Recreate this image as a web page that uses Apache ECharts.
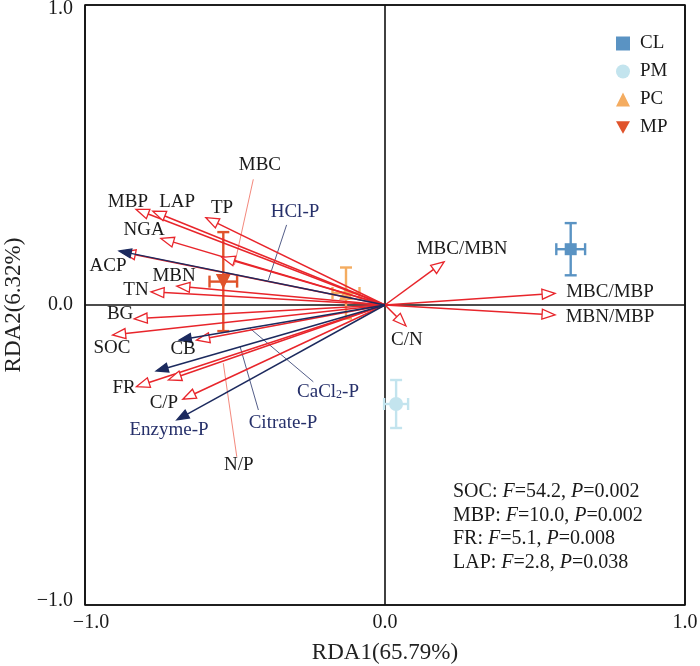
<!DOCTYPE html>
<html>
<head>
<meta charset="utf-8">
<script src="https://cdn.jsdelivr.net/npm/echarts@6/dist/echarts.min.js"></script>
<style>html,body{margin:0;padding:0;background:#fff}#chart{width:700px;height:666px}</style>
</head>
<body>
<div id="chart"></div>
<script>
// 土壤因子 (red arrows)
var soilNames = ['MBP','LAP','TP','NGA','ACP','MBC','MBN','TN','BG','SOC','CB','FR','N/P','C/P','MBC/MBN','MBC/MBP','MBN/MBP','C/N'];
var soilX = [-0.83,-0.774,-0.597,-0.747,-0.875,-0.544,-0.694,-0.78,-0.836,-0.908,-0.628,-0.828,-0.722,-0.674,0.197,0.567,0.567,0.07];
var soilY = [0.319,0.313,0.291,0.222,0.176,0.159,0.063,0.044,-0.046,-0.1,-0.117,-0.272,-0.25,-0.314,0.144,0.039,-0.033,-0.07];
// 磷组分 (navy arrows)
var pNames = ['HCl-P','CaCl2-P','Citrate-P','Enzyme-P'];
var pX = [-0.886,-0.686,-0.763,-0.694];
var pY = [0.18,-0.117,-0.22,-0.383];
// 处理
var trtNames = ['CL','PM','PC','MP'];
var trtX = [0.619,0.037,-0.13,-0.539];
var trtY = [0.186,-0.33,0.04,0.078];
var trtXErr = [0.048,0.04,0.045,0.046];
var trtYErr = [0.087,0.08,0.085,0.165];
// 检验结果
var testVars = ['SOC','MBP','FR','LAP'];
var testF = ['54.2','10.0','5.1','2.8'];
var testP = ['0.002','0.002','0.008','0.038'];
var axisTicks = [-1, 0, 1];

// 标签位置 (layout only)
var soilLabelX = [-0.857,-0.693,-0.543,-0.803,-0.923,-0.417,-0.703,-0.83,-0.883,-0.91,-0.673,-0.87,-0.487,-0.737,0.257,0.75,0.75,0.073];
var soilLabelY = [0.343,0.343,0.323,0.25,0.13,0.467,0.097,0.05,-0.03,-0.143,-0.147,-0.277,-0.533,-0.327,0.187,0.043,-0.04,-0.117];
var pLabelX = [-0.30,-0.19,-0.34,-0.72];
var pLabelY = [0.31,-0.287,-0.393,-0.417];
// 引线
var leaders = [
  [-0.439,0.419,-0.502,0.133,'#f06a5a'],
  [-0.328,0.267,-0.389,0.083,'#27336a'],
  [-0.239,-0.256,-0.45,-0.078,'#27336a'],
  [-0.422,-0.35,-0.483,-0.139,'#27336a'],
  [-0.494,-0.506,-0.539,-0.194,'#f06a5a']
];

var RED = '#e8252b', NAVY = '#1c2a5e';
var trtColors = ['#5a93c3','#c3e4ee','#f4ac60','#e0532b'];
var trtSymbols = ['rect','circle','triangle','path://M0,0 L10,0 L5,9 Z'];
var trtSizes = [12,14,14,15];
var FONT = '"Liberation Serif", "Times New Roman", serif';
var LABEL_SIZE = 19;

function arrowRender(color, filled){
  return function(params, api){
    var o = api.coord([0,0]);
    var t = api.coord([api.value(0), api.value(1)]);
    var dx = t[0]-o[0], dy = t[1]-o[1];
    var len = Math.sqrt(dx*dx+dy*dy);
    var ux = dx/len, uy = dy/len;
    var hl = filled ? 12 : 13, hw = filled ? 4.5 : 5;
    var bx = t[0]-ux*hl, by = t[1]-uy*hl;
    return {type:'group', children:[
      {type:'line', shape:{x1:o[0],y1:o[1],x2:bx,y2:by}, style:{stroke:color,lineWidth:1.5}},
      {type:'polygon', shape:{points:[[t[0],t[1]],[bx-uy*hw,by+ux*hw],[bx+uy*hw,by-ux*hw]]},
       style:{fill: filled ? color : '#fff', stroke: color, lineWidth: 1.3}}
    ]};
  };
}

function labelRender(color){
  return function(params, api){
    var p = api.coord([api.value(0), api.value(1)]);
    var name = api.value(2);
    var txt = name, rich;
    if (name === 'CaCl2-P') {
      txt = '{n|CaCl}{s|2}{n|-P}';
      rich = {n:{fontSize:LABEL_SIZE,fontFamily:FONT,fill:color,lineHeight:20,verticalAlign:'bottom'},
              s:{fontSize:12,fontFamily:FONT,fill:color,lineHeight:11,padding:[11,0,0,0],verticalAlign:'bottom'}};
    }
    return {type:'text', x:p[0], y:p[1], style:{text:txt, rich:rich, fill:color,
      font:LABEL_SIZE + 'px ' + FONT, align:'center', verticalAlign:'middle'}};
  };
}

var soilArrows = soilX.map(function(v,i){ return [v, soilY[i]]; });
var pArrows = pX.map(function(v,i){ return [v, pY[i]]; });
var soilLabels = soilNames.map(function(n,i){ return [soilLabelX[i], soilLabelY[i], n]; });
var pLabels = pNames.map(function(n,i){ return [pLabelX[i], pLabelY[i], n]; });

var series = [];
// 误差线
series.push({
  type:'custom', name:'err', z:2, silent:true,
  data: trtNames.map(function(n,i){ return [trtX[i], trtY[i], trtXErr[i], trtYErr[i]]; }),
  renderItem: function(params, api){
    var x = api.value(0), y = api.value(1), ex = api.value(2), ey = api.value(3);
    var l = api.coord([x-ex,y]), r = api.coord([x+ex,y]);
    var t = api.coord([x,y+ey]), b = api.coord([x,y-ey]);
    var c = trtColors[params.dataIndex], cap = 6;
    var st = {stroke:c, lineWidth:2.4};
    return {type:'group', children:[
      {type:'line', shape:{x1:l[0],y1:l[1],x2:r[0],y2:r[1]}, style:st},
      {type:'line', shape:{x1:t[0],y1:t[1],x2:b[0],y2:b[1]}, style:st},
      {type:'line', shape:{x1:l[0],y1:l[1]-cap,x2:l[0],y2:l[1]+cap}, style:st},
      {type:'line', shape:{x1:r[0],y1:r[1]-cap,x2:r[0],y2:r[1]+cap}, style:st},
      {type:'line', shape:{x1:t[0]-cap,y1:t[1],x2:t[0]+cap,y2:t[1]}, style:st},
      {type:'line', shape:{x1:b[0]-cap,y1:b[1],x2:b[0]+cap,y2:b[1]}, style:st}
    ]};
  }
});
trtNames.forEach(function(n,i){
  series.push({type:'scatter', name:n, z:3, symbol:trtSymbols[i], symbolSize:trtSizes[i],
    itemStyle:{color:trtColors[i], opacity:1}, data:[[trtX[i], trtY[i]]]});
});
series.push({type:'custom', name:'leader', z:4, silent:true, data:leaders,
  renderItem:function(params, api){
    var a = api.coord([api.value(0), api.value(1)]), b = api.coord([api.value(2), api.value(3)]);
    return {type:'line', shape:{x1:a[0],y1:a[1],x2:b[0],y2:b[1]}, style:{stroke:leaders[params.dataIndex][4], lineWidth:0.8}};
  }});
series.push({type:'custom', name:'soil', z:5, silent:true, data:soilArrows, renderItem:arrowRender(RED,false)});
series.push({type:'custom', name:'pfrac', z:6, silent:true, data:pArrows, renderItem:arrowRender(NAVY,true)});
series.push({type:'custom', name:'soilLab', z:7, silent:true, data:soilLabels, renderItem:labelRender('#1a1a1a')});
series.push({type:'custom', name:'pLab', z:7, silent:true, data:pLabels, renderItem:labelRender('#26306a')});

var chart = echarts.init(document.getElementById('chart'));
var fmtVal = function(v){ return (v < 0 ? '\u22121.0' : v.toFixed(1)); };
var xFmt = function(v){ return v < 0 ? '{lo|' + fmtVal(v) + '}' : fmtVal(v); };
var yFmt = function(v){
  if (v > 0) return '{hi|' + fmtVal(v) + '}';
  if (v < 0) return '{lo|' + fmtVal(v) + '}';
  return fmtVal(v);
};
var tickFont = {fontFamily:FONT, fontSize:20, color:'#1a1a1a'};
chart.setOption({
  backgroundColor:'#fff',
  animation:false,
  grid:{left:85, top:5, width:600, height:600, outerBoundsMode:'none', containLabel:false,
    show:true, borderColor:'#111', borderWidth:1.6, backgroundColor:'transparent'},
  legend:{
    orient:'vertical', left:611, top:29, itemWidth:14, itemHeight:14, itemGap:9,
    textStyle:{fontFamily:FONT, fontSize:19, color:'#1a1a1a', padding:[0,0,0,5]},
    data: trtNames.map(function(n,i){ return {name:n, icon:trtSymbols[i]}; })
  },
  xAxis:{type:'value', min:axisTicks[0], max:axisTicks[2], interval:1,
    name:'RDA1(65.79%)', nameLocation:'middle', nameGap:36,
    nameTextStyle:{fontFamily:FONT, fontSize:23, color:'#222'},
    axisLine:{show:false}, axisTick:{show:false},
    axisLabel:{formatter:xFmt, fontFamily:FONT, fontSize:20, color:'#1a1a1a', margin:8,
      rich:{lo:Object.assign({padding:[0,0,0,12]}, tickFont)}},
    splitLine:{show:true, lineStyle:{color:'#111', width:1.6}}},
  yAxis:{type:'value', min:axisTicks[0], max:axisTicks[2], interval:1,
    name:'RDA2(6.32%)', nameLocation:'middle', nameGap:60,
    nameTextStyle:{fontFamily:FONT, fontSize:23, color:'#222'},
    axisLine:{show:false}, axisTick:{show:false},
    axisLabel:{formatter:yFmt, fontFamily:FONT, fontSize:20, color:'#1a1a1a', margin:12,
      rich:{hi:Object.assign({padding:[8,0,0,0]}, tickFont), lo:Object.assign({padding:[0,0,8,0]}, tickFont)}},
    splitLine:{show:true, lineStyle:{color:'#111', width:1.6}}},
  graphic: testVars.map(function(v,i){
    return {type:'text', left:453, top:482 + i*23.5, z:10,
      style:{text:'{n|' + v + ': }{i|F}{n|=' + testF[i] + ', }{i|P}{n|=' + testP[i] + '}',
        rich:{n:{fontFamily:FONT, fontSize:20, fill:'#1a1a1a'},
              i:{fontFamily:FONT, fontSize:20, fontStyle:'italic', fill:'#1a1a1a'}}}};
  }),
  series: series
});
</script>
</body>
</html>
